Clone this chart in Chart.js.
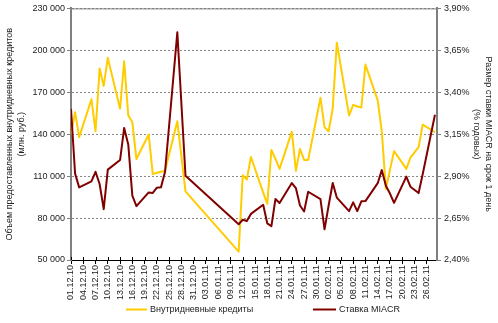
<!DOCTYPE html>
<html><head><meta charset="utf-8">
<script src="https://cdn.jsdelivr.net/npm/chart.js@4"></script>
<style>html,body{margin:0;padding:0;background:#fff}canvas{display:block}</style>
</head><body>
<canvas id="c" width="498" height="323"></canvas>
<script>
const dates = ['01.12.10','02.12.10','03.12.10','06.12.10','07.12.10','08.12.10','09.12.10','10.12.10','13.12.10','14.12.10','15.12.10','16.12.10','17.12.10','20.12.10','21.12.10','22.12.10','23.12.10','24.12.10','27.12.10','29.12.10',
'11.01.11','12.01.11','13.01.11','14.01.11','17.01.11','18.01.11','19.01.11','20.01.11','21.01.11','24.01.11','25.01.11','26.01.11','27.01.11','28.01.11','31.01.11',
'01.02.11','02.02.11','03.02.11','04.02.11','07.02.11','08.02.11','09.02.11','10.02.11','11.02.11','14.02.11','15.02.11','16.02.11','17.02.11','18.02.11','21.02.11','22.02.11','24.02.11','25.02.11','28.02.11'];
const credits = [140000,155800,137900,165000,142100,187000,174500,194600,158200,192200,153500,148500,122300,139800,111400,112400,113100,113800,149200,99100,
56000,110700,107600,123700,98200,90200,128700,122300,115200,141800,113800,129400,121600,121600,166000,
145000,142100,158400,205400,153500,161000,159800,159100,189800,164200,142100,100800,114500,127900,115200,123200,130800,146900,141400];
const miacr = [3.30,2.915,2.833,2.869,2.926,2.853,2.703,2.939,2.996,3.187,3.089,2.784,2.721,2.803,2.800,2.831,2.833,2.926,3.758,2.902,
2.613,2.640,2.633,2.675,2.729,2.618,2.601,2.764,2.740,2.859,2.828,2.725,2.689,2.807,2.763,
2.583,2.725,2.859,2.772,2.691,2.744,2.691,2.750,2.751,2.858,2.936,2.843,2.796,2.741,2.897,2.837,2.799,2.911,3.266];
const xTickLabels = ['01.12.10','04.12.10','07.12.10','10.12.10','13.12.10','16.12.10','19.12.10','22.12.10','25.12.10','28.12.10','31.12.10','03.01.11','06.01.11','09.01.11','12.01.11','15.01.11','18.01.11','21.01.11','24.01.11','27.01.11','30.01.11','02.02.11','05.02.11','08.02.11','11.02.11','14.02.11','17.02.11','20.02.11','23.02.11','26.02.11'];
const leftTicks = [50000,80000,110000,140000,170000,200000,230000];
const rightTicks = [2.40,2.65,2.90,3.15,3.40,3.65,3.90];
const seriesNames = ['Внутридневные кредиты','Ставка MIACR'];
const leftTitle = ['Объем предоставленных внутридневных кредитов','(млн. руб.)'];
const rightTitle = ['Размер ставки MIACR на срок 1 день','(% годовых)'];

function dayIndex(s){const p=s.split('.').map(Number);return (Date.UTC(2000+p[2],p[1]-1,p[0])-Date.UTC(2010,11,1))/86400000;}
function fmtLeft(v){return String(v).replace(/\B(?=(\d{3})+(?!\d))/g,' ');}
function fmtRight(v){return v.toFixed(2).replace('.',',')+'%';}

const FAM = '"Liberation Sans", Arial, sans-serif';
const font = {family: FAM, size: 9};
const txt = '#222';

const deco = {id:'deco', afterDraw(c){
  const ctx=c.ctx, a=c.chartArea;
  ctx.save();
  ctx.strokeStyle='#808080'; ctx.lineWidth=1;
  ctx.beginPath(); ctx.moveTo(a.left,a.top+0.5); ctx.lineTo(a.right,a.top+0.5); ctx.stroke();
  const xs=c.scales.x; ctx.strokeStyle='#000';
  xTickLabels.forEach((_,i)=>{const px=Math.round(xs.getPixelForValue(i*3))+0.5;ctx.beginPath();ctx.moveTo(px,a.bottom-3);ctx.lineTo(px,a.bottom);ctx.stroke();});
  const leg=[{x:126,w:21},{x:313,w:23}];
  ctx.font='9px '+FAM; ctx.textBaseline='middle'; ctx.fillStyle=txt;
  c.data.datasets.forEach((ds,i)=>{
    const L=leg[i]; ctx.strokeStyle=ds.borderColor; ctx.lineWidth=2;
    ctx.beginPath(); ctx.moveTo(L.x,309.5); ctx.lineTo(L.x+L.w,309.5); ctx.stroke();
    ctx.fillText(ds.label,L.x+L.w+3,310);
  });
  ctx.restore();
}};

new Chart(document.getElementById('c'),{
  type:'line',
  data:{datasets:[
    {label:seriesNames[0],data:dates.map((d,i)=>({x:dayIndex(d),y:credits[i]})),borderColor:'#FFCC00',backgroundColor:'#FFCC00',borderWidth:2,pointRadius:0,tension:0,yAxisID:'y',order:1,borderJoinStyle:'round'},
    {label:seriesNames[1],data:dates.map((d,i)=>({x:dayIndex(d),y:miacr[i]})),borderColor:'#800000',backgroundColor:'#800000',borderWidth:2,pointRadius:0,tension:0,yAxisID:'y1',order:0,borderJoinStyle:'round'}
  ]},
  options:{
    responsive:false,animation:false,devicePixelRatio:1,
    layout:{padding:{top:6,left:0,right:0,bottom:0}},
    plugins:{legend:{display:false},tooltip:{enabled:false}},
    scales:{
      x:{type:'linear',min:0,max:89.5,
        afterFit(s){s.height=63;},
        afterBuildTicks(s){s.ticks=xTickLabels.map((_,i)=>({value:i*3}));},
        ticks:{minRotation:90,maxRotation:90,autoSkip:false,padding:1,color:txt,font,callback:v=>xTickLabels[Math.round(v/3)]},
        grid:{display:true,drawOnChartArea:false,tickLength:4,tickColor:'#000'},
        border:{color:'#000',width:1}},
      y:{position:'left',min:50000,max:230000,
        afterFit(s){s.width=71;},
        afterBuildTicks(s){s.ticks=leftTicks.map(v=>({value:v}));},
        ticks:{padding:2,color:txt,font,callback:v=>fmtLeft(v)},
        grid:{color:'#888',lineWidth:1,tickLength:4,tickColor:'#808080',tickBorderDash:[]},
        border:{color:'#808080',width:2,dash:[2,2]},
        title:{display:true,text:leftTitle,color:txt,font:{family:FAM,size:9,lineHeight:1.3},padding:{top:4,bottom:0}}},
      y1:{position:'right',min:2.4,max:3.9,
        afterFit(s){s.width=61;},
        afterBuildTicks(s){s.ticks=rightTicks.map(v=>({value:v}));},
        ticks:{padding:3,color:txt,font,callback:v=>fmtRight(v)},
        grid:{drawOnChartArea:false,tickLength:4,tickColor:'#808080'},
        border:{color:'#808080',width:2},
        title:{display:true,text:rightTitle,color:txt,font:{family:FAM,size:9,lineHeight:1.3},padding:{top:4,bottom:0}}}
    }
  },
  plugins:[deco]
});
</script>
</body></html>
